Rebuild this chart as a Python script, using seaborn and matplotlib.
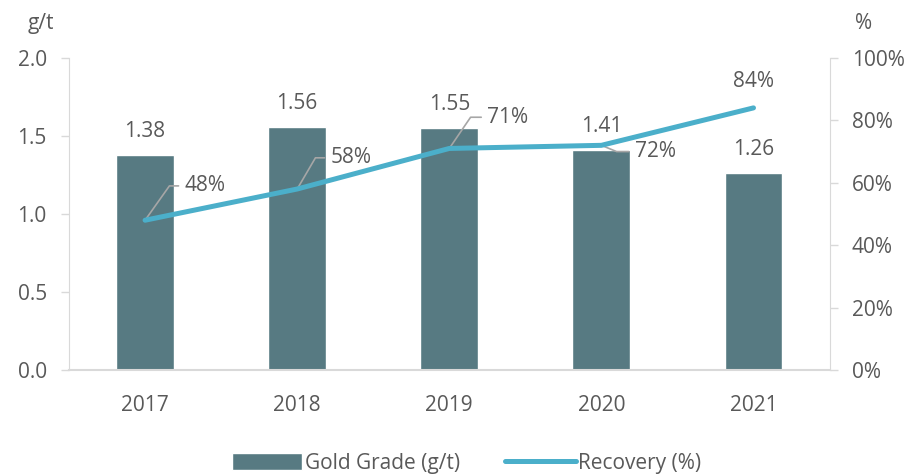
import matplotlib
matplotlib.use("Agg")
import matplotlib.pyplot as plt
import seaborn as sns
import pandas as pd
from matplotlib.patches import Patch
from matplotlib.lines import Line2D

years = ["2017", "2018", "2019", "2020", "2021"]
gold_grade = [1.38, 1.56, 1.55, 1.41, 1.26]
recovery = [48, 58, 71, 72, 84]

bar_color = "#577a82"
line_color = "#4bafca"
text_color = "#595959"
axis_color = "#d9d9d9"
fs = 15

sns.set_style("white")
plt.rcParams["font.family"] = ["Open Sans", "DejaVu Sans"]

df = pd.DataFrame({"year": years, "grade": gold_grade, "recovery": recovery})

fig = plt.figure(figsize=(9.13, 4.75), dpi=100)
ax = fig.add_axes([0.0756, 0.221, 0.833, 0.657])
sns.barplot(data=df, x="year", y="grade", color=bar_color, width=0.38,
            saturation=1, ax=ax)
ax.set_ylim(0, 2.0)
ax.set_xlim(-0.5, 4.5)
ax.set_yticks([0, 0.5, 1.0, 1.5, 2.0])
ax.set_yticklabels(["0.0", "0.5", "1.0", "1.5", "2.0"])
ax.set_xlabel("")
ax.set_ylabel("")

ax2 = ax.twinx()
sns.lineplot(x=list(range(len(years))), y=recovery, color=line_color,
             linewidth=3.6, ax=ax2, solid_capstyle="round")
ax2.set_ylim(0, 100)
ax2.set_yticks([0, 20, 40, 60, 80, 100])
ax2.set_yticklabels([f"{v}%" for v in [0, 20, 40, 60, 80, 100]])
ax2.set_ylabel("")

for a in (ax, ax2):
    for s in a.spines.values():
        s.set_visible(False)
ax.spines["left"].set_visible(True)
ax.spines["left"].set_color(axis_color)
ax.spines["bottom"].set_visible(True)
ax.spines["bottom"].set_color(axis_color)
ax.spines["bottom"].set_linewidth(1.5)
ax2.spines["right"].set_visible(True)
ax2.spines["right"].set_color(axis_color)

ax.tick_params(axis="y", colors=axis_color, labelcolor=text_color,
               labelsize=fs, length=6, width=1, pad=10, left=True)
ax.tick_params(axis="x", labelcolor=text_color, labelsize=fs, length=0, pad=18)
ax2.tick_params(axis="y", colors=axis_color, labelcolor=text_color,
                labelsize=fs, length=6, width=1, pad=10, right=True)

# bar value labels
for i, v in enumerate(gold_grade):
    ax.text(i, v + 0.115, f"{v:.2f}", ha="center", va="baseline",
            fontsize=fs, color=text_color)

# recovery labels with leader lines (offsets in data units of ax2)
leader = [(0.16, 11, 0.22), (0.12, 10, 0.18), (0.14, 10, 0.21),
          (0.1, -2, 0.18), None]
for i, v in enumerate(recovery):
    lab = f"{v}%"
    if leader[i] is None:
        ax2.text(i, v + 5, lab, ha="center", va="bottom",
                 fontsize=fs, color=text_color)
        continue
    dx, dy, hx = leader[i]
    ax2.plot([i, i + dx, i + hx], [v, v + dy, v + dy], color="#a6a6a6",
             linewidth=1.2, zorder=1)
    ax2.text(i + hx + 0.04, v + dy, lab, ha="left", va="center",
             fontsize=fs, color=text_color)

fig.text(0.03, 0.95, "g/t", fontsize=fs, color=text_color, va="center")
fig.text(0.946, 0.95, "%", fontsize=fs, color=text_color, va="center", ha="center")

handles = [Patch(facecolor=bar_color, label="Gold Grade (g/t)"),
           Line2D([0], [0], color=line_color, linewidth=3.6,
                  solid_capstyle="round", label="Recovery (%)")]
fig.legend(handles=handles, loc="center", ncol=2, frameon=False,
           bbox_to_anchor=(0.511, 0.025), fontsize=fs, labelcolor=text_color,
           handlelength=3.4, handletextpad=0.1, columnspacing=2.2,
           handleheight=0.9)

fig.savefig("out.png", dpi=100)
